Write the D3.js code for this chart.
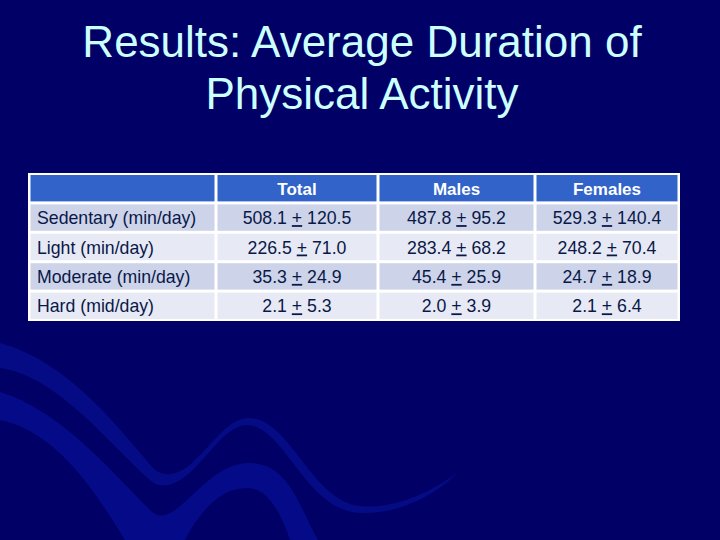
<!DOCTYPE html>
<html>
<head>
<meta charset="utf-8">
<script src="https://cdn.jsdelivr.net/npm/d3@7"></script>
<style>
  html, body { margin: 0; padding: 0; background: #000066; }
  svg { display: block; }
</style>
</head>
<body>
<script>
// ---- data ----
const titleLines = ["Results: Average Duration of", "Physical Activity"];
const columns = ["", "Total", "Males", "Females"];
const rowLabels = ["Sedentary (min/day)", "Light (min/day)", "Moderate (min/day)", "Hard (mid/day)"];
const meanTotal   = ["508.1", "226.5", "35.3", "2.1"];
const sdTotal     = ["120.5", "71.0", "24.9", "5.3"];
const meanMales   = ["487.8", "283.4", "45.4", "2.0"];
const sdMales     = ["95.2", "68.2", "25.9", "3.9"];
const meanFemales = ["529.3", "248.2", "24.7", "2.1"];
const sdFemales   = ["140.4", "70.4", "18.9", "6.4"];

// ---- layout ----
const W = 720, H = 540;
const colEdges = [29, 216, 378, 535, 679];
const tableTop = 173.5, tableBottom = 320.5;

const svg = d3.select("body").append("svg").attr("width", W).attr("height", H);
svg.append("rect").attr("width", W).attr("height", H).attr("fill", "#000066");

// decorative swooshes
const deco = svg.append("g").attr("fill", "#0a16aa");
deco.append("path").attr("opacity", 0.45).attr("d",
  "M0,343 C70,362 120,430 155,470 C190,492 215,420 247,418 C290,416 310,500 360,506 C400,510 440,486 458,472 " +
  "C440,492 400,515 360,513 C305,510 285,426 247,425 C215,426 192,496 155,484 C115,452 60,376 0,368 Z");
deco.append("path").attr("opacity", 0.5).attr("d",
  "M0,392 C60,410 110,470 150,510 C175,535 200,466 247,463 C290,461 300,510 318,540 " +
  "L290,540 C278,505 265,488 247,488 C218,488 198,515 185,540 L125,540 C100,500 60,432 0,420 Z");

// title
svg.append("g").selectAll("text").data(titleLines).join("text")
  .attr("x", 362).attr("y", (d, i) => 57 + i * 52)
  .attr("text-anchor", "middle")
  .attr("font-family", "Arial, 'Liberation Sans', sans-serif")
  .attr("font-size", 44)
  .attr("fill", "#CCFFFF")
  .text(d => d);

// table
const rowKeys = ["header", ...rowLabels];
const y = d3.scaleBand().domain(rowKeys).range([tableTop, tableBottom]);
const x = d3.scaleOrdinal().domain(d3.range(columns.length)).range(colEdges.slice(0, -1));
const xEnd = d3.scaleOrdinal().domain(d3.range(columns.length)).range(colEdges.slice(1));

const table = svg.append("g");
table.append("rect")
  .attr("x", colEdges[0] - 1).attr("y", tableTop - 0.5)
  .attr("width", colEdges[4] - colEdges[0] + 2).attr("height", tableBottom - tableTop + 1)
  .attr("fill", "#ffffff");

const cells = [];
rowKeys.forEach((r, ri) => {
  columns.forEach((c, ci) => {
    let txt = null;
    if (ri === 0) txt = { plain: c };
    else if (ci === 0) txt = { plain: r };
    else {
      const m = [meanTotal, meanMales, meanFemales][ci - 1][ri - 1];
      const s = [sdTotal, sdMales, sdFemales][ci - 1][ri - 1];
      txt = { mean: m, sd: s };
    }
    cells.push({ r, ri, ci, txt });
  });
});

const fillFor = d => d.ri === 0 ? "#3163C9" : (d.ri % 2 === 1 ? "#CDD4EA" : "#E7EAF4");

table.selectAll("rect.cell").data(cells).join("rect")
  .attr("class", "cell")
  .attr("x", d => x(d.ci) + 1.5)
  .attr("y", d => y(d.r) + 1.5)
  .attr("width", d => xEnd(d.ci) - x(d.ci) - 3)
  .attr("height", y.bandwidth() - 3)
  .attr("fill", fillFor);

const font = "Arial, 'Liberation Sans', sans-serif";
const texts = table.selectAll("text.cell").data(cells.filter(d => d.txt.plain !== "" )).join("text")
  .attr("class", "cell")
  .attr("font-family", font)
  .attr("x", d => d.ci === 0 ? x(0) + 8 : (x(d.ci) + xEnd(d.ci)) / 2)
  .attr("y", d => y(d.r) + y.bandwidth() / 2 + 6.5)
  .attr("text-anchor", d => d.ci === 0 ? "start" : "middle")
  .attr("font-size", d => d.ri === 0 ? 17 : 17.7)
  .attr("font-weight", d => d.ri === 0 ? "bold" : "normal")
  .attr("fill", d => d.ri === 0 ? "#ffffff" : "#0A1848");

texts.each(function(d) {
  const t = d3.select(this);
  if (d.txt.plain !== undefined) { t.text(d.txt.plain); return; }
  t.append("tspan").text(d.txt.mean + " ");
  t.append("tspan").attr("text-decoration", "underline").text("+");
  t.append("tspan").text(" " + d.txt.sd);
});
</script>
</body>
</html>
